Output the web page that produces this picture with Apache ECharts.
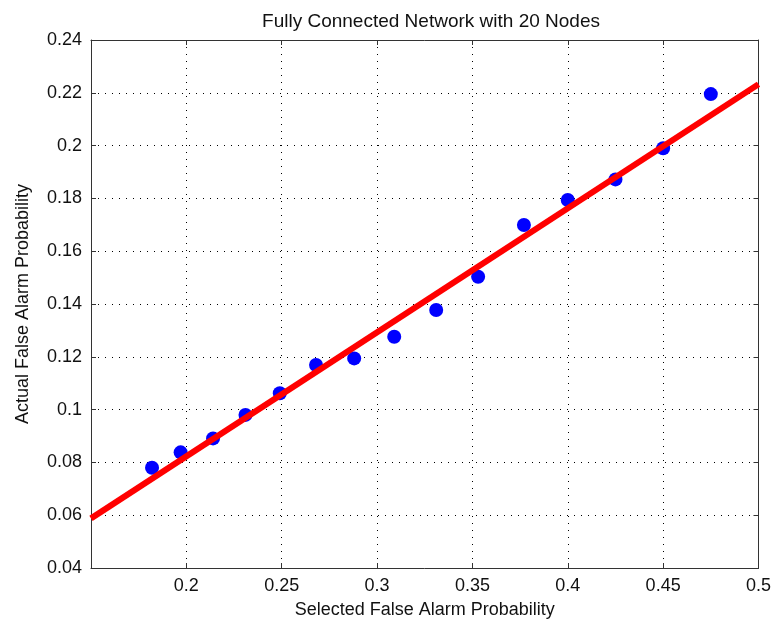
<!DOCTYPE html>
<html>
<head>
<meta charset="utf-8">
<script src="https://cdn.jsdelivr.net/npm/echarts@6/dist/echarts.min.js"></script>
<style>
  html, body { margin: 0; padding: 0; background: #fff; }
  #chart { width: 774px; height: 626px; }
</style>
</head>
<body>
<div id="chart"></div>
<script>
// measured points (selected vs actual false alarm probability)
var selectedPfa = [0.182, 0.197, 0.214, 0.231, 0.249, 0.268, 0.288, 0.309, 0.331, 0.353, 0.377, 0.400, 0.425, 0.450, 0.475];
var actualPfa   = [0.078, 0.0838, 0.0891, 0.098, 0.1062, 0.1169, 0.1194, 0.1276, 0.1377, 0.1503, 0.1699, 0.1794, 0.1872, 0.199, 0.2195];
// fitted line endpoints
var fitX = [0.15, 0.5];
var fitY = [0.0588, 0.2232];

var labelFont = 'Liberation Sans, Arial, sans-serif';

var points = selectedPfa.map(function (x, i) { return [x, actualPfa[i]]; });
var fitLine = fitX.map(function (x, i) { return [x, fitY[i]]; });

function fmt(v) { return String(+v.toFixed(2)); }

var chart = echarts.init(document.getElementById('chart'));

var frameLine = { show: true, lineStyle: { color: '#333', width: 1 } };
var tick = { show: true, inside: true, length: 5, lineStyle: { color: '#333' } };
var grid = { show: true, lineStyle: { color: '#000', width: 1, type: [1, 6] } };

chart.setOption({
    animation: false,
    backgroundColor: '#fff',
    title: {
        text: 'Fully Connected Network with 20 Nodes',
        left: 426,
        textAlign: 'center',
        top: 7,
        textStyle: { fontFamily: labelFont, fontSize: 19, fontWeight: 'normal', color: '#111' }
    },
    grid: { left: 91, top: 40, right: 13, bottom: 58 },
    xAxis: [
        {
            type: 'value',
            min: 0.15,
            max: 0.5,
            interval: 0.05,
            name: 'Selected False Alarm Probability',
            nameLocation: 'middle',
            nameGap: 33,
            nameTextStyle: { fontFamily: labelFont, fontSize: 18, color: '#111' },
            axisLine: frameLine,
            axisTick: tick,
            splitLine: grid,
            axisLabel: {
                fontFamily: labelFont, fontSize: 18, color: '#111', margin: 9,
                formatter: function (v) { return v < 0.16 ? '' : fmt(v); }
            }
        },
        {
            type: 'value', position: 'top', min: 0.15, max: 0.5, interval: 0.05,
            axisLine: frameLine, axisTick: tick, axisLabel: { show: false }, splitLine: { show: false }
        }
    ],
    yAxis: [
        {
            type: 'value',
            min: 0.04,
            max: 0.24,
            interval: 0.02,
            name: 'Actual False Alarm Probability',
            nameLocation: 'middle',
            nameGap: 59,
            nameTextStyle: { fontFamily: labelFont, fontSize: 18, color: '#111' },
            axisLine: frameLine,
            axisTick: tick,
            splitLine: grid,
            axisLabel: {
                fontFamily: labelFont, fontSize: 18, color: '#111', margin: 9,
                formatter: fmt
            }
        },
        {
            type: 'value', position: 'right', min: 0.04, max: 0.24, interval: 0.02,
            axisLine: frameLine, axisTick: tick, axisLabel: { show: false }, splitLine: { show: false }
        }
    ],
    series: [
        {
            type: 'scatter',
            data: points,
            symbol: 'circle',
            symbolSize: 14,
            itemStyle: { color: '#0000ff', opacity: 1 },
            z: 2
        },
        {
            type: 'line',
            data: fitLine,
            showSymbol: false,
            lineStyle: { color: '#ff0000', width: 6 },
            z: 3
        }
    ]
});
</script>
</body>
</html>
